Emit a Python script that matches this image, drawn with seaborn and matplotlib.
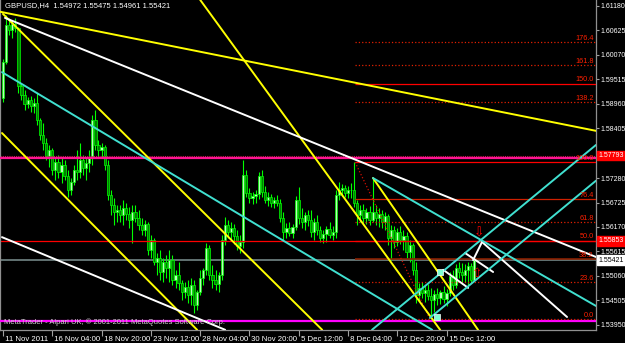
import matplotlib
matplotlib.use("Agg")
import matplotlib.pyplot as plt
import matplotlib.transforms as mtransforms
import numpy as np
import pandas as pd
import seaborn as sns

# ---------------- data ----------------
title_text = "GBPUSD,H4  1.54972 1.55475 1.54961 1.55421"
copyright_text = "MetaTrader - Alpari UK, \u00a9 2001-2011 MetaQuotes Software Corp."

first_open = 1.5909
closes = [1.5991, 1.6075, 1.6064, 1.6077, 1.6068, 1.5937, 1.5916, 1.5896, 1.5905, 1.5891,
          1.5898, 1.5860, 1.5826, 1.5807, 1.5778, 1.5792, 1.5746, 1.5764, 1.5742, 1.5758,
          1.5733, 1.5701, 1.5719, 1.5746, 1.5742, 1.5769, 1.5751, 1.5762, 1.5773, 1.5860,
          1.5803, 1.5792, 1.5798, 1.5758, 1.5690, 1.5667, 1.5651, 1.5656, 1.5644, 1.5660,
          1.5646, 1.5633, 1.5651, 1.5637, 1.5622, 1.5610, 1.5624, 1.5565, 1.5588, 1.5538,
          1.5547, 1.5515, 1.5538, 1.5524, 1.5542, 1.5497, 1.5508, 1.5490, 1.5470, 1.5481,
          1.5463, 1.5486, 1.5440, 1.5470, 1.5501, 1.5520, 1.5569, 1.5508, 1.5497, 1.5488,
          1.5508, 1.5588, 1.5622, 1.5606, 1.5615, 1.5597, 1.5574, 1.5583, 1.5735, 1.5694,
          1.5683, 1.5687, 1.5692, 1.5733, 1.5696, 1.5678, 1.5685, 1.5671, 1.5678, 1.5671,
          1.5637, 1.5606, 1.5615, 1.5603, 1.5617, 1.5678, 1.5637, 1.5628, 1.5644, 1.5633,
          1.5606, 1.5628, 1.5610, 1.5592, 1.5601, 1.5612, 1.5599, 1.5606, 1.5690, 1.5701,
          1.5705, 1.5694, 1.5701, 1.5701, 1.5671, 1.5644, 1.5656, 1.5637, 1.5651, 1.5633,
          1.5651, 1.5637, 1.5646, 1.5628, 1.5642, 1.5592, 1.5610, 1.5583, 1.5606, 1.5588,
          1.5597, 1.5560, 1.5576, 1.5520, 1.5463, 1.5479, 1.5467, 1.5474, 1.5461, 1.5452,
          1.5465, 1.5456, 1.5470, 1.5454, 1.5467, 1.5506, 1.5486, 1.5524, 1.5515, 1.5508,
          1.5520, 1.5529, 1.5497, 1.55421]
highs = [1.5998, 1.6098, 1.6091, 1.6086, 1.6091, 1.6070, 1.5941, 1.5928, 1.5912, 1.5914,
         1.5909, 1.5921, 1.5864, 1.5853, 1.5819, 1.5803, 1.5796, 1.5776, 1.5780, 1.5773,
         1.5769, 1.5746, 1.5728, 1.5758, 1.5792, 1.5807, 1.5780, 1.5773, 1.5792, 1.5871,
         1.5882, 1.5814, 1.5807, 1.5803, 1.5769, 1.5701, 1.5683, 1.5667, 1.5667, 1.5678,
         1.5671, 1.5662, 1.5667, 1.5667, 1.5656, 1.5637, 1.5633, 1.5628, 1.5599, 1.5592,
         1.5558, 1.5565, 1.5547, 1.5554, 1.5565, 1.5554, 1.5520, 1.5538, 1.5497, 1.5492,
         1.5497, 1.5501, 1.5497, 1.5474, 1.5520, 1.5524, 1.5581, 1.5576, 1.5531, 1.5520,
         1.5515, 1.5599, 1.5640, 1.5633, 1.5628, 1.5624, 1.5610, 1.5599, 1.5769, 1.5746,
         1.5705, 1.5696, 1.5701, 1.5742, 1.5746, 1.5710, 1.5696, 1.5692, 1.5685, 1.5690,
         1.5680, 1.5651, 1.5626, 1.5628, 1.5624, 1.5687, 1.5708, 1.5660, 1.5651, 1.5656,
         1.5656, 1.5637, 1.5644, 1.5619, 1.5610, 1.5619, 1.5628, 1.5619, 1.5701, 1.5719,
         1.5714, 1.5712, 1.5710, 1.5717, 1.5764, 1.5678, 1.5667, 1.5669, 1.5660, 1.5665,
         1.5726, 1.5667, 1.5660, 1.5656, 1.5651, 1.5646, 1.5622, 1.5619, 1.5615, 1.5619,
         1.5610, 1.5606, 1.5588, 1.5581, 1.5538, 1.5490, 1.5492, 1.5486, 1.5488, 1.5479,
         1.5474, 1.5479, 1.5474, 1.5483, 1.5477, 1.5515, 1.5520, 1.5533, 1.5538, 1.5535,
         1.5533, 1.5538, 1.5535, 1.55475]
lows = [1.5900, 1.5987, 1.6052, 1.6045, 1.6059, 1.5921, 1.5905, 1.5882, 1.5887, 1.5878,
        1.5875, 1.5848, 1.5814, 1.5792, 1.5769, 1.5753, 1.5735, 1.5724, 1.5728, 1.5717,
        1.5724, 1.5685, 1.5690, 1.5712, 1.5724, 1.5728, 1.5735, 1.5724, 1.5742, 1.5758,
        1.5792, 1.5776, 1.5773, 1.5746, 1.5678, 1.5644, 1.5622, 1.5628, 1.5628, 1.5622,
        1.5633, 1.5615, 1.5581, 1.5628, 1.5610, 1.5599, 1.5597, 1.5554, 1.5547, 1.5531,
        1.5508, 1.5497, 1.5492, 1.5501, 1.5492, 1.5486, 1.5479, 1.5474, 1.5452, 1.5456,
        1.5445, 1.5440, 1.5422, 1.5429, 1.5463, 1.5486, 1.5508, 1.5497, 1.5479, 1.5474,
        1.5470, 1.5497, 1.5576, 1.5592, 1.5588, 1.5578, 1.5565, 1.5558, 1.5569, 1.5685,
        1.5671, 1.5669, 1.5671, 1.5680, 1.5685, 1.5671, 1.5665, 1.5662, 1.5660, 1.5665,
        1.5628, 1.5588, 1.5592, 1.5597, 1.5592, 1.5610, 1.5624, 1.5615, 1.5610, 1.5619,
        1.5594, 1.5588, 1.5599, 1.5583, 1.5581, 1.5583, 1.5592, 1.5588, 1.5592, 1.5678,
        1.5687, 1.5685, 1.5683, 1.5683, 1.5662, 1.5622, 1.5628, 1.5626, 1.5624, 1.5622,
        1.5628, 1.5622, 1.5617, 1.5615, 1.5610, 1.5576, 1.5542, 1.5569, 1.5574, 1.5578,
        1.5565, 1.5547, 1.5538, 1.5508, 1.5445, 1.5452, 1.5456, 1.5447, 1.5452, 1.5411,
        1.5425, 1.5440, 1.5443, 1.5445, 1.5438, 1.5461, 1.5474, 1.5479, 1.5501, 1.5488,
        1.5492, 1.5486, 1.5490, 1.54961]

date_ticks = [0, 16, 32, 48, 64, 80, 96, 112, 128, 144]
date_labels = ["11 Nov 2011", "16 Nov 04:00", "18 Nov 20:00", "23 Nov 12:00", "28 Nov 04:00",
               "30 Nov 20:00", "5 Dec 12:00", "8 Dec 04:00", "12 Dec 20:00", "15 Dec 12:00"]
price_ticks = [1.61180, 1.60625, 1.60070, 1.59515, 1.58960, 1.58405, 1.57850, 1.57280,
               1.56725, 1.56170, 1.55615, 1.55060, 1.54505, 1.53950]
# 1.57850 is hidden under the red price box in the original
price_labels = ["1.61180", "1.60625", "1.60070", "1.59515", "1.58960", "1.58405", "",
                "1.57280", "1.56725", "1.56170", "1.55615", "1.55060", "1.54505", "1.53950"]

# horizontal objects
hline_top_magenta = 1.5774
hline_top_dotted = 1.5779
hline_red = 1.5586
hline_bottom_magenta = 1.5405
bid_price = 1.55421
box_labels = [("1.57793", 1.57793, "#FF0000", "white"),
              ("1.55853", 1.55853, "#FF0000", "white"),
              ("1.55421", 1.55421, "white", "black")]

# fibonacci
fib_high = 1.5764
fib_low = 1.5408
fib_start_bar = 114.3
fib_low_bar = 138.6
fib_ratios = [0.0, 23.6, 38.2, 50.0, 61.8, 76.4, 100.0, 138.2, 150.0, 161.8, 176.4]

# trend lines: [bar0, price0, bar1, price1]
yellow_lines = [[-0.97, 1.6105, 192.5, 1.5835],
                [0.0, 1.6100, 103.6, 1.5384],
                [-0.32, 1.5830, 63.0, 1.5384],
                [64.0, 1.6132, 141.9, 1.5384],
                [120.1, 1.5728, 154.2, 1.5384]]
white_lines = [[0.65, 1.6091, 192.5, 1.5549],
               [-0.32, 1.5594, 72.1, 1.5384],
               [155.5, 1.5583, 183.1, 1.5413],
               [152.6, 1.5542, 155.5, 1.5583],
               [142.9, 1.5520, 151.0, 1.5479],
               [150.0, 1.5558, 159.1, 1.5515]]
cyan_lines = [[-0.32, 1.5968, 139.3, 1.5384],
              [120.1, 1.5728, 192.5, 1.5438],
              [119.8, 1.5384, 192.5, 1.5803],
              [138.6, 1.5411, 192.5, 1.5722]]
cyan_marks_bar = [141.9, 140.9]
cyan_marks_price = [1.5515, 1.5413]
arrow_down = (154.5, 1.5603)
arrow_up = (153.9, 1.5511)

x_min, x_max = -0.97, 192.5
y_min, y_max = 1.53835, 1.61316

# ---------------- style ----------------
sns.set_theme(style="dark", rc={"axes.facecolor": "black", "figure.facecolor": "black",
                                "axes.grid": False})
plt.rcParams['font.family'] = ['Liberation Sans', 'DejaVu Sans']

fig = plt.figure(figsize=(6.25, 3.43), dpi=100)
fig.patch.set_facecolor('black')
ax = fig.add_axes([0, 13 / 343, 596 / 625, 330 / 343])
ax.set_facecolor('black')

# ---------------- candles ----------------
n = len(closes)
opens = [first_open] + closes[:-1]
df = pd.DataFrame({'bar': np.arange(n), 'open': opens, 'high': highs,
                   'low': lows, 'close': closes})
df['high'] = df[['open', 'high', 'close']].max(axis=1)
df['low'] = df[['open', 'low', 'close']].min(axis=1)
bull = df['close'] >= df['open']

ax.vlines(df['bar'], df['low'], df['high'], color='#00FF00', lw=0.8, zorder=2)
body_bottom = np.minimum(df['open'], df['close'])
body_h = np.maximum(np.abs(df['close'] - df['open']), 0.00005)
ax.bar(df['bar'], body_h, bottom=body_bottom, width=0.72,
       color=np.where(bull, '#B8FFB8', '#008000'), edgecolor='#00FF00',
       linewidth=0.5, zorder=2.1)

# ---------------- horizontal lines ----------------
ax.axhline(bid_price, color='#6A7B7B', lw=1.3, zorder=1.5)
ax.axhline(hline_red, color='#FF0000', lw=0.9, zorder=2.5)
ax.axhline(hline_top_dotted, color='#C02050', lw=0.8, ls=(0, (1, 1)), zorder=2.5)
ax.axhline(hline_top_magenta, color='#FF1493', lw=1.6, zorder=2.6)
ax.axhline(hline_bottom_magenta, color='#FF00FF', lw=1.6, zorder=2.6)

# ---------------- fibonacci ----------------
fib_rng = fib_high - fib_low
fib_style = {0.0: ('#E02000', ':'), 23.6: ('#E02000', ':'), 38.2: ('#8B2000', '-'),
             50.0: ('#FF0000', '-'), 61.8: ('#E02000', ':'), 76.4: ('#D02000', '-'),
             100.0: ('#FF0000', '-'), 138.2: ('#E02000', ':'), 150.0: ('#FF0000', '-'),
             161.8: ('#E02000', ':'), 176.4: ('#E02000', ':')}
for r in fib_ratios:
    lvl = fib_low + fib_rng * r / 100.0
    col, ls = fib_style[r]
    lw = 1.2 if r == 38.2 else 0.9
    ax.hlines(lvl, fib_start_bar, x_max, colors=col, linestyles=ls, lw=lw, zorder=2.7)
    ax.text(x_max - 0.8, lvl + 0.00012, f"{r:.1f}", color='#FF2000', fontsize=5.3,
            ha='right', va='bottom', zorder=6)
sns.lineplot(x=[fib_start_bar, fib_low_bar], y=[fib_high, fib_low], color='#D01000',
             lw=0.9, linestyle=':', ax=ax, zorder=3)

# ---------------- trend lines ----------------
for x0, p0, x1, p1 in yellow_lines:
    sns.lineplot(x=[x0, x1], y=[p0, p1], color='#FFFF00', lw=1.4, ax=ax, zorder=3)
for x0, p0, x1, p1 in white_lines:
    sns.lineplot(x=[x0, x1], y=[p0, p1], color='#FFFFFF', lw=1.4, ax=ax, zorder=3)
for x0, p0, x1, p1 in cyan_lines:
    sns.lineplot(x=[x0, x1], y=[p0, p1], color='#40E0D0', lw=1.4, ax=ax, zorder=3)

sns.scatterplot(x=cyan_marks_bar, y=cyan_marks_price, marker='s', s=14,
                color='#7FFFD4', edgecolor='white', linewidth=0.5, ax=ax, zorder=4)
ax.text(arrow_down[0], arrow_down[1], "\u21e9", color='#FF0000', fontsize=9,
        ha='center', va='center', family=['DejaVu Sans'], zorder=5)
ax.text(arrow_up[0], arrow_up[1], "\u21e7", color='#FF0000', fontsize=9,
        ha='center', va='center', family=['DejaVu Sans'], zorder=5)

# ---------------- axes ----------------
ax.set_xlim(x_min, x_max)
ax.set_ylim(y_min, y_max)
ax.set_xlabel("")
ax.set_ylabel("")
ax.yaxis.tick_right()
ax.set_yticks(price_ticks, price_labels)
ax.set_xticks(date_ticks, [" " + s for s in date_labels])
ax.tick_params(axis='y', which='both', direction='out', length=2.5, width=0.8,
               color='#A0A0A0', pad=0.8, labelsize=5.0, labelcolor='white',
               left=False, right=True)
ax.tick_params(axis='x', which='both', direction='out', length=4, width=0.8,
               color='#A0A0A0', pad=0.2, labelsize=5.6, labelcolor='white',
               bottom=True)
for lab in ax.get_xticklabels():
    lab.set_horizontalalignment('left')
for side in ['right', 'bottom', 'left']:
    ax.spines[side].set_visible(True)
    ax.spines[side].set_color('#909090')
    ax.spines[side].set_linewidth(0.9)
ax.spines['top'].set_visible(False)

# price boxes on the axis
trans = mtransforms.blended_transform_factory(ax.transAxes, ax.transData)
for txt, p, fc, tc in box_labels:
    ax.text(1.0035, p, txt, transform=trans, ha='left', va='center', fontsize=5.0,
            color=tc, clip_on=False, zorder=10,
            bbox=dict(boxstyle='square,pad=0.15', fc=fc, ec=fc))

# texts
ax.text(5 / 596, 1 - 6 / 330, title_text, transform=ax.transAxes, ha='left',
        va='center', fontsize=5.5, color='white', zorder=10)
ax.text(4 / 596, 8 / 330, copyright_text, transform=ax.transAxes, ha='left',
        va='center', fontsize=5.4, color='#D0D0D0', zorder=10)

fig.savefig("out.png", dpi=100, facecolor='black')
